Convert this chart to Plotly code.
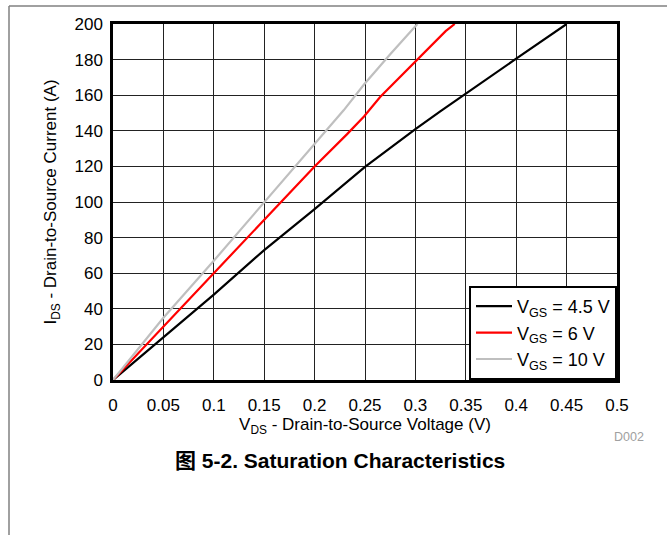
import plotly.graph_objects as go

# ---- data ----
vds_45 = [0, 0.05, 0.10, 0.15, 0.1878, 0.20, 0.25, 0.30, 0.325, 0.35, 0.40, 0.45]
ids_45 = [0, 24, 48, 73, 90.4, 96, 119.7, 141, 151, 161, 180.5, 200]

vds_6 = [0, 0.05, 0.10, 0.15, 0.1675, 0.20, 0.232, 0.249, 0.265, 0.30, 0.33, 0.339]
ids_6 = [0, 30, 60, 90, 100, 120, 138, 148, 159, 179, 196, 200]

vds_10 = [0, 0.05, 0.10, 0.15, 0.1756, 0.20, 0.2157, 0.2288, 0.249, 0.275, 0.302]
ids_10 = [0, 35, 67, 100, 117, 133, 143, 151.5, 166, 183, 200]

series_names = ["V<sub>GS</sub> = 4.5 V", "V<sub>GS</sub> = 6 V", "V<sub>GS</sub> = 10 V"]
series_colors = ["#000000", "#ff0000", "#bfbfbf"]

x_tickvals = [0, 0.05, 0.1, 0.15, 0.2, 0.25, 0.3, 0.35, 0.4, 0.45, 0.5]
x_ticktext = ["0", "0.05", "0.1", "0.15", "0.2", "0.25", "0.3", "0.35", "0.4", "0.45", "0.5"]
y_tickvals = [0, 20, 40, 60, 80, 100, 120, 140, 160, 180, 200]

FONT = "Liberation Sans, Arial, Noto Sans CJK SC, sans-serif"

W, H = 667, 535
ML, MR, MT, MB = 113, 50, 24, 155
PW = W - ML - MR
PH = H - MT - MB

def px(xp):
    return (xp - ML) / PW

def py(yp):
    return (H - MB - yp) / PH

fig = go.Figure()
for xs, ys, name, col in zip([vds_45, vds_6, vds_10], [ids_45, ids_6, ids_10], series_names, series_colors):
    fig.add_trace(go.Scatter(x=xs, y=ys, mode="lines", name=name,
                             line=dict(color=col, width=2.2)))

axis_common = dict(showline=True, linewidth=2.5, linecolor="black", mirror=True,
                   showgrid=True, gridcolor="#222222", gridwidth=1,
                   zeroline=False, ticks="", tickfont=dict(family=FONT, size=17, color="black"))

fig.update_layout(
    width=W, height=H,
    margin=dict(l=ML, r=MR, t=MT, b=MB, autoexpand=False),
    paper_bgcolor="white", plot_bgcolor="white",
    font=dict(family=FONT, size=17, color="black"),
    xaxis=dict(range=[0, 0.5], tickvals=x_tickvals, ticktext=x_ticktext,
               ticklabelstandoff=8,
               title=dict(text="V<sub>DS</sub> - Drain-to-Source Voltage (V)",
                          font=dict(family=FONT, size=17), standoff=4),
               **axis_common),
    yaxis=dict(range=[0, 200], tickvals=y_tickvals,
               ticklabelstandoff=4,
               title=dict(text="I<sub>DS</sub> - Drain-to-Source Current (A)",
                          font=dict(family=FONT, size=17), standoff=14),
               **axis_common),
    legend=dict(x=1, y=0, xanchor="right", yanchor="bottom",
                bgcolor="white", bordercolor="black", borderwidth=2,
                font=dict(family=FONT, size=18), tracegroupgap=0,
                itemwidth=36),
    showlegend=True,
)

# page frame lines
fig.add_shape(type="line", xref="paper", yref="paper",
              x0=px(9), x1=px(667), y0=py(6), y1=py(6),
              line=dict(color="#808080", width=1.5))
fig.add_shape(type="line", xref="paper", yref="paper",
              x0=px(9), x1=px(9), y0=py(6), y1=py(535),
              line=dict(color="#808080", width=1.5))

fig.add_annotation(text="D002", xref="paper", yref="paper", x=px(629), y=py(437),
                   xanchor="center", yanchor="middle",
                   showarrow=False, font=dict(family=FONT, size=12.5, color="#a0a0a0"))
fig.add_annotation(text="<b>图 5-2. Saturation Characteristics</b>", xref="paper", yref="paper",
                   x=px(340), y=py(460), xanchor="center", yanchor="middle", showarrow=False,
                   font=dict(family=FONT, size=21, color="black"))

fig.write_html("out.html")
